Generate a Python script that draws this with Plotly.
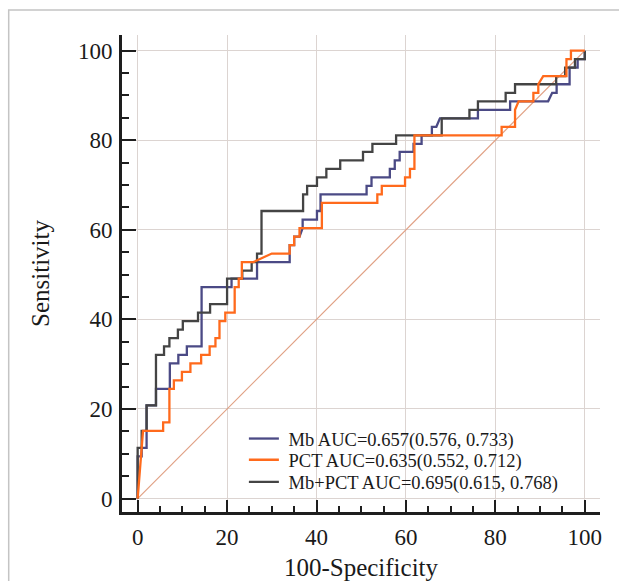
import plotly.graph_objects as go

# ROC points (100-Specificity, Sensitivity)
mb_fpr = [0, 0, 0.9, 0.9, 2.0, 2.0, 4.1, 4.1, 7.2, 7.2, 9.1, 9.1, 11.0, 11.0, 14.3, 14.3,
          21.0, 21.0, 26.7, 26.7, 34.0, 34.0, 35.0, 35.0, 36.2, 36.9, 36.9, 40.1, 40.1,
          40.9, 40.9, 51.2, 51.2, 52.3, 52.3, 56.4, 56.4, 57.5, 57.5, 58.6, 58.6, 61.7,
          61.7, 63.5, 63.5, 65.8, 65.8, 66.8, 67.6, 76.1, 76.1, 83.3, 83.3, 91.8, 92.7,
          93.7, 93.7, 96.6, 96.6, 98.4, 98.4, 100, 100]
mb_tpr = [0, 9.4, 9.4, 11.3, 11.3, 20.8, 20.8, 24.5, 24.5, 30.2, 30.2, 32.1, 32.1, 34.0,
          34.0, 47.2, 47.2, 49.1, 49.1, 52.8, 52.8, 56.6, 56.6, 58.5, 58.5, 60.4, 62.3,
          62.3, 64.2, 64.2, 67.9, 67.9, 69.8, 69.8, 71.7, 71.7, 73.6, 73.6, 75.5, 75.5,
          77.4, 77.4, 79.2, 79.2, 81.1, 81.1, 83.0, 83.0, 84.9, 84.9, 86.8, 86.8, 88.7,
          88.7, 90.6, 90.6, 92.5, 92.5, 96.2, 96.2, 98.1, 98.1, 100]

pct_fpr = [0, 1.0, 1.2, 5.7, 5.7, 7.1, 7.1, 8.1, 8.1, 9.9, 9.9, 11.8, 11.8, 14.2, 14.2,
           16.1, 16.1, 17.4, 17.4, 18.3, 18.3, 19.6, 19.6, 21.7, 21.7, 22.6, 22.6, 23.3,
           23.3, 25.9, 30.0, 34.0, 34.0, 35.0, 35.0, 36.2, 36.2, 41.2, 41.2, 53.6, 53.6,
           54.6, 54.6, 59.8, 59.8, 60.9, 60.9, 61.9, 61.9, 81.4, 81.4, 84.4, 84.4, 85.2,
           88.5, 88.5, 89.6, 89.6, 90.7, 95.9, 95.9, 96.9, 96.9, 100]
pct_tpr = [0, 13.2, 15.1, 15.1, 17.0, 17.0, 24.5, 24.5, 26.4, 26.4, 28.3, 28.3, 30.2,
           30.2, 32.1, 32.1, 34.0, 34.0, 35.8, 35.8, 39.6, 39.6, 41.5, 41.5, 47.2, 47.2,
           49.1, 49.1, 52.8, 52.8, 54.7, 54.7, 56.6, 56.6, 58.5, 58.5, 60.4, 60.4, 66.0,
           66.0, 67.9, 67.9, 69.8, 69.8, 71.7, 71.7, 73.6, 73.6, 81.1, 81.1, 83.0, 83.0,
           86.8, 88.7, 88.7, 90.6, 90.6, 92.5, 94.3, 94.3, 98.1, 98.1, 100, 100]

comb_fpr = [0, 0, 0.9, 0.9, 2.0, 2.0, 4.1, 4.1, 5.9, 5.9, 7.1, 7.1, 9.0, 9.0, 10.1, 10.1,
            13.5, 13.5, 16.2, 16.2, 20.0, 20.0, 23.4, 23.4, 25.5, 25.5, 26.7, 26.7, 27.7,
            27.7, 37.0, 37.0, 37.9, 37.9, 40.1, 40.1, 42.2, 42.2, 45.3, 45.3, 50.4, 50.4,
            52.5, 52.5, 57.8, 57.8, 68.0, 68.0, 74.2, 74.2, 76.1, 76.1, 82.3, 82.3, 84.4,
            84.4, 93.6, 93.6, 95.6, 95.6, 97.8, 97.8, 100, 100]
comb_tpr = [0, 11.3, 11.3, 15.1, 15.1, 20.8, 20.8, 32.1, 32.1, 34.0, 34.0, 35.8, 35.8,
            37.7, 37.7, 39.6, 39.6, 41.5, 41.5, 43.4, 43.4, 49.1, 49.1, 50.9, 50.9, 52.8,
            52.8, 54.7, 54.7, 64.2, 64.2, 67.9, 67.9, 69.8, 69.8, 71.7, 71.7, 73.6, 73.6,
            75.5, 75.5, 77.4, 77.4, 79.2, 79.2, 81.1, 81.1, 84.9, 84.9, 86.8, 86.8, 88.7,
            88.7, 90.6, 90.6, 92.5, 92.5, 94.3, 94.3, 96.2, 96.2, 98.1, 98.1, 100]

ref_line = [0, 100]

labels = ["Mb AUC=0.657(0.576, 0.733)",
          "PCT AUC=0.635(0.552, 0.712)",
          "Mb+PCT AUC=0.695(0.615, 0.768)"]

FONT = "Liberation Serif, Times New Roman, serif"
TXT = "#1a1a1a"
GAP = "\u00a0"  # a little more room between legend line and text

fig = go.Figure()

# chance line
fig.add_trace(go.Scatter(x=ref_line, y=ref_line, mode="lines",
                         line=dict(color="#e0a084", width=1.2), showlegend=False,
                         hoverinfo="skip"))

fig.add_trace(go.Scatter(x=mb_fpr, y=mb_tpr, mode="lines", name=GAP + labels[0],
                         line=dict(color="#4b4a85", width=2.3), legend="legend"))
fig.add_trace(go.Scatter(x=comb_fpr, y=comb_tpr, mode="lines", name=GAP + labels[2],
                         line=dict(color="#444444", width=2.3), legend="legend3"))
fig.add_trace(go.Scatter(x=pct_fpr, y=pct_tpr, mode="lines", name=GAP + labels[1],
                         line=dict(color="#ff6a1c", width=2.3), legend="legend2"))

axis_common = dict(
    tickvals=[0, 20, 40, 60, 80, 100],
    ticks="inside", tickwidth=2, tickcolor="#1e1e1e",
    showline=True, linewidth=3, linecolor="#1e1e1e",
    showgrid=True, gridcolor="#dcd4d1", gridwidth=1,
    zeroline=False, automargin=False,
    tickfont=dict(family=FONT, size=23, color=TXT),
    minor=dict(dtick=5, tick0=0, ticks="inside", tickwidth=1.5,
               tickcolor="#1e1e1e", showgrid=False),
)

fig.update_xaxes(axis_common, range=[-3.5, 103.4], ticklen=12,
                 minor_ticklen=6, ticklabelstandoff=2,
                 title=dict(text="100-Specificity", standoff=10,
                            font=dict(family=FONT, size=25, color=TXT)))
fig.update_yaxes(axis_common, range=[-3.0, 103.5], ticklen=14,
                 minor_ticklen=7, ticklabelstandoff=2,
                 title=dict(text="Sensitivity", standoff=22,
                            font=dict(family=FONT, size=25, color=TXT)))

leg = dict(xanchor="left", yanchor="middle", x=0.255, bgcolor="rgba(0,0,0,0)",
           font=dict(family=FONT, size=18.5, color=TXT), itemwidth=30)

W, H = 619, 581
L, T, R, B = 122, 35, 19, 69.3
PW, PH = W - L - R, H - T - B

fig.update_layout(
    width=W, height=H,
    margin=dict(l=L, r=R, t=T, b=B, autoexpand=False),
    paper_bgcolor="white", plot_bgcolor="white",
    legend=dict(leg, y=0.153),
    legend2=dict(leg, y=0.1085),
    legend3=dict(leg, y=0.0623),
    # light frame around the whole picture (right/bottom run off the edge)
    shapes=[dict(type="rect", xref="paper", yref="paper",
                 x0=(8.7 - L) / PW, x1=(650 - L) / PW,
                 y0=(H - B - 610) / PH, y1=(H - B - 10) / PH,
                 line=dict(color="#c4c4c4", width=1.5), layer="below")],
)

# drop the default page margin so the figure sits at the window corner
fig.write_html("out.html",
               config={"displayModeBar": False},
               post_script="document.body.style.margin='0';"
                           "document.body.style.overflow='hidden';")
